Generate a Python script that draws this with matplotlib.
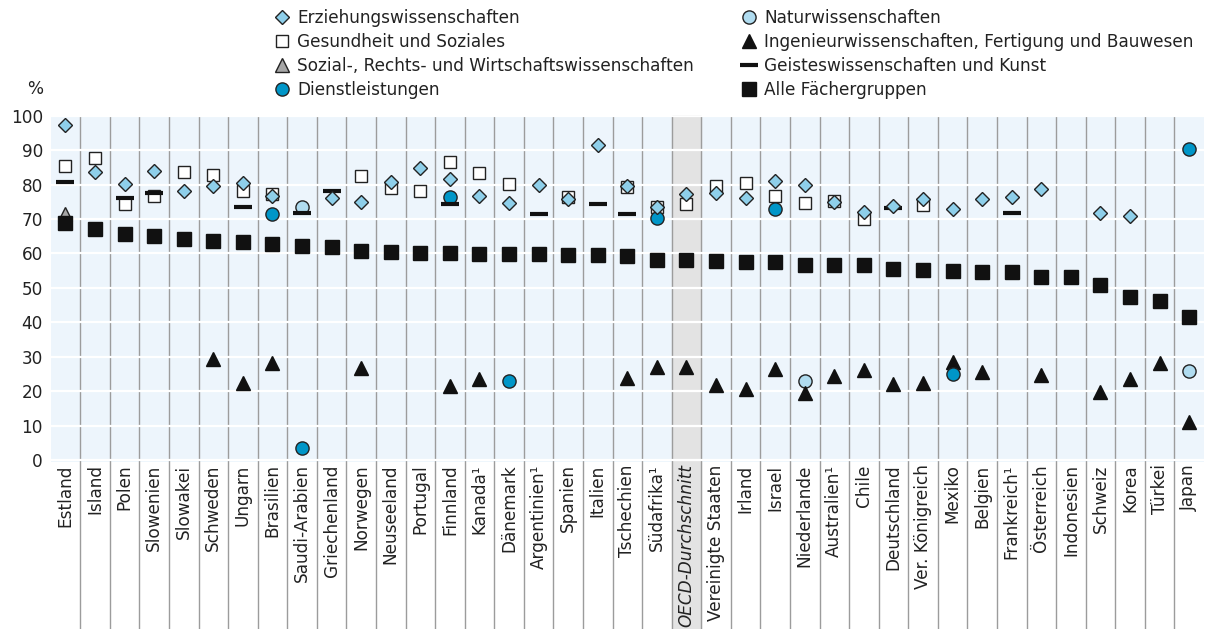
import numpy as np
import matplotlib.pyplot as plt
from matplotlib.lines import Line2D

plt.rcParams['font.family'] = 'DejaVu Sans'

countries = ['Estland', 'Island', 'Polen', 'Slowenien', 'Slowakei', 'Schweden', 'Ungarn',
             'Brasilien', 'Saudi-Arabien', 'Griechenland', 'Norwegen', 'Neuseeland', 'Portugal',
             'Finnland', 'Kanada¹', 'Dänemark', 'Argentinien¹', 'Spanien', 'Italien', 'Tschechien',
             'Südafrika¹', 'OECD-Durchschnitt', 'Vereinigte Staaten', 'Irland', 'Israel',
             'Niederlande', 'Australien¹', 'Chile', 'Deutschland', 'Ver. Königreich', 'Mexiko',
             'Belgien', 'Frankreich¹', 'Österreich', 'Indonesien', 'Schweiz', 'Korea', 'Türkei', 'Japan']
nan = np.nan

# Erziehungswissenschaften
education = [97.4, 83.8, 80.2, 84.0, 78.2, 79.6, 80.4, 76.8, nan, 76.2, 75.0, 80.7, 84.7,
             81.7, 76.7, 74.6, 80.0, 75.8, 91.6, 79.6, 73.5, 77.4, 77.6, 76.2, 81.1,
             79.8, 75.0, 72.1, 73.8, 75.9, 72.9, 75.9, 76.4, 78.7, nan, 71.8, 71.0, nan, nan]
# Gesundheit und Soziales
health = [85.4, 87.6, 74.5, 76.8, 83.7, 82.8, 78.2, 77.4, nan, nan, 82.5, 79.0, 78.2,
          86.5, 83.4, 80.2, nan, 76.5, nan, 79.3, 73.6, 74.4, 79.6, 80.4, 76.8,
          74.7, 75.3, 69.9, nan, 74.0, nan, nan, nan, nan, nan, nan, nan, nan, nan]
# Sozial-, Rechts- und Wirtschaftswissenschaften
social = [71.5] + [nan] * 38
# Dienstleistungen
services = {'Brasilien': 71.4, 'Saudi-Arabien': 3.6, 'Finnland': 76.5, 'Dänemark': 23.0,
            'Südafrika¹': 70.4, 'Israel': 72.8, 'Mexiko': 25.0, 'Japan': 90.4}
# Naturwissenschaften
natural = {'Saudi-Arabien': 73.6, 'Niederlande': 22.9, 'Japan': 25.7}
# Ingenieurwissenschaften, Fertigung und Bauwesen
engineering = [nan, nan, nan, nan, nan, 29.2, 22.5, 28.1, nan, nan, 26.6, nan, nan,
               21.5, 23.4, nan, nan, nan, nan, 23.9, 26.9, 27.1, 21.9, 20.5, 26.3,
               19.4, 24.4, 26.1, 22.1, 22.5, 28.6, 25.5, nan, 24.8, nan, 19.8, 23.4, 28.1, 11.1]
# Geisteswissenschaften und Kunst
humanities = {'Estland': 80.8, 'Polen': 76.2, 'Slowenien': 77.5, 'Ungarn': 73.4,
              'Saudi-Arabien': 71.8, 'Griechenland': 78.2, 'Finnland': 74.3, 'Argentinien¹': 71.4,
              'Italien': 74.4, 'Tschechien': 71.5, 'Deutschland': 73.1, 'Frankreich¹': 71.8}
# Alle Fächergruppen
all_fields = [68.7, 67.0, 65.6, 65.1, 64.2, 63.6, 63.4, 62.7, 62.2, 61.8, 60.8, 60.5, 60.0,
              60.0, 59.8, 59.8, 59.7, 59.4, 59.4, 59.2, 58.1, 58.1, 57.7, 57.4, 57.4,
              56.7, 56.7, 56.7, 55.4, 55.2, 55.0, 54.6, 54.6, 53.2, 53.2, 50.7, 47.2, 46.2, 41.6]


def from_dict(d):
    return [d.get(c, nan) for c in countries]


fs = 12.2
ink = '#222222'
bg = '#EDF5FC'

fig = plt.figure(figsize=(12.12, 6.29), dpi=100)
ax = fig.add_axes([0.0418, 0.266, 0.9516, 0.550])
ax.set_facecolor(bg)
x = np.arange(len(countries))
ax.set_xlim(-0.5, len(countries) - 0.5)
ax.set_ylim(-0.5, 100)

oecd = countries.index('OECD-Durchschnitt')
band = ax.axvspan(oecd - 0.5, oecd + 0.5, ymin=-0.49, ymax=1, color='#E3E3E3', zorder=0.5)
band.set_clip_on(False)
ax.vlines(np.arange(0.5, len(countries) - 1), -0.49, 1, transform=ax.get_xaxis_transform(),
          colors='#9C9C9C', lw=1.0, zorder=1, clip_on=False)
for v in range(0, 101, 10):
    ax.axhline(v, color='white', lw=1.6, zorder=1.5)

## marker styles
st_edu = dict(marker='D', ms=7, mfc='#8ECFEA', mec=ink, mew=1)
st_health = dict(marker='s', ms=9.2, mfc='white', mec=ink, mew=1)
st_social = dict(marker='^', ms=9.5, mfc='#A6A6A6', mec=ink, mew=1)
st_serv = dict(marker='o', ms=9.5, mfc='#0096C8', mec=ink, mew=1)
st_nat = dict(marker='o', ms=9.5, mfc='#B0DCF0', mec=ink, mew=1)
st_eng = dict(marker='^', ms=10, mfc='#111111', mec='#111111', mew=1)
st_hum = dict(marker='_', ms=12.5, mec='#111111', mew=3)
st_all = dict(marker='s', ms=10, mfc='#111111', mec='#111111', mew=1)

ax.plot(x, health, ls='none', zorder=3.0, **st_health)
ax.plot(x, from_dict(natural), ls='none', zorder=3.1, **st_nat)
ax.plot(x, social, ls='none', zorder=3.2, **st_social)
ax.plot(x, engineering, ls='none', zorder=3.5, **st_eng)
ax.plot(x, from_dict(services), ls='none', zorder=3.6, **st_serv)
ax.plot(x, from_dict(humanities), ls='none', zorder=3.7, **st_hum)
ax.plot(x, education, ls='none', zorder=3.8, **st_edu)
ax.plot(x, all_fields, ls='none', zorder=3.9, **st_all)

for s in ax.spines.values():
    s.set_visible(False)
ax.set_yticks(range(0, 101, 10))
ax.tick_params(axis='y', length=0, pad=5.5, labelsize=fs, labelcolor=ink)
ax.set_xticks(x)
ax.set_xticklabels(countries, rotation=90)
ax.tick_params(axis='x', length=0, pad=2, labelsize=fs, labelcolor=ink)
ax.get_xticklabels()[oecd].set_style('italic')
fig.text(43 / 1212, 1 - 89 / 629, '%', ha='right', va='center', fontsize=fs, color=ink)

## legend, two columns
def handle(style):
    return Line2D([], [], ls='none', **style)

leg_opts = dict(loc='upper left', frameon=False, borderpad=0, borderaxespad=0,
                handlelength=1.0, handletextpad=0.4, labelspacing=0.36, fontsize=fs,
                labelcolor=ink)
fig.legend([handle(st_edu), handle(st_health), handle(st_social), handle(st_serv)],
           ['Erziehungswissenschaften', 'Gesundheit und Soziales',
            'Sozial-, Rechts- und Wirtschaftswissenschaften', 'Dienstleistungen'],
           bbox_to_anchor=(273.6 / 1212, 1 - 9 / 629), **leg_opts)
fig.legend([handle(st_nat), handle(st_eng), handle(st_hum), handle(st_all)],
           ['Naturwissenschaften', 'Ingenieurwissenschaften, Fertigung und Bauwesen',
            'Geisteswissenschaften und Kunst', 'Alle Fächergruppen'],
           bbox_to_anchor=(740.6 / 1212, 1 - 9 / 629), **leg_opts)

fig.savefig('out.png', dpi=100)
